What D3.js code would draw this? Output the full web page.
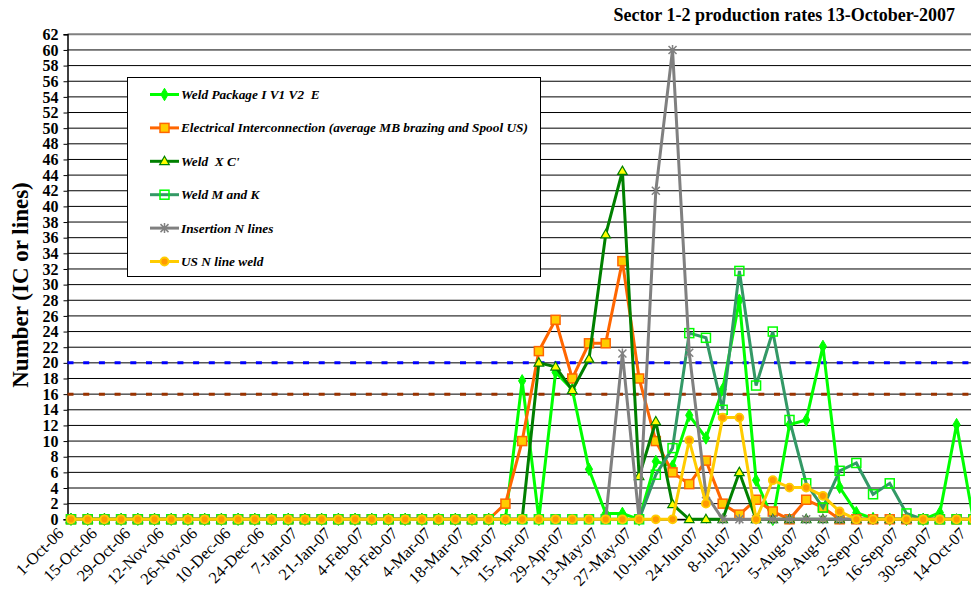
<!DOCTYPE html>
<html>
<head>
<meta charset="utf-8">
<script src="https://cdn.jsdelivr.net/npm/d3@7"></script>
<style>
  body { margin: 0; background: #fff; }
  svg { display: block; }
</style>
</head>
<body>
<div id="chart"></div>
<script>
// weekly categories, 1-Oct-06 .. 14-Oct-07
var weekStart = new Date(2006, 9, 1);
var weeks = d3.range(55).map(function(i) { return d3.timeDay.offset(weekStart, i * 7); });

var xTickLabels = ["1-Oct-06", "15-Oct-06", "29-Oct-06", "12-Nov-06", "26-Nov-06", "10-Dec-06",
  "24-Dec-06", "7-Jan-07", "21-Jan-07", "4-Feb-07", "18-Feb-07", "4-Mar-07", "18-Mar-07",
  "1-Apr-07", "15-Apr-07", "29-Apr-07", "13-May-07", "27-May-07", "10-Jun-07", "24-Jun-07",
  "8-Jul-07", "22-Jul-07", "5-Aug-07", "19-Aug-07", "2-Sep-07", "16-Sep-07", "30-Sep-07", "14-Oct-07"];

var yTicks = d3.range(0, 63, 2);

// values from week 25 (25-Mar-07) on, earlier weeks are 0
var zeros25 = d3.range(25).map(function() { return 0; });

var weldPackage = zeros25.concat([0, 0, 17.7, 0, 18.8, 16.6, 6.4, 0.75, 0.75, 0, 7.4, 6.8, 13.3, 10.4,
  16.6, 28, 5.0, 0, 12.1, 12.7, 22.1, 4.1, 0.85, 0.1, 0, 0, 0, 0.85, 12.1, 0]);
var electrical = zeros25.concat([0, 2, 10, 21.5, 25.5, 18, 22.5, 22.5, 33, 18, 10, 6, 4.5, 7.5,
  2, 0.6, 2.5, 1, 0, 2.5, 1.5, 0, 0, 0, 0, 0, 0, 0, 0, 0]);
var weldXC = zeros25.concat([0, 0, 0, 20, 19.5, 16.5, 20.5, 36.4, 44.5, 5.5, 12.5, 1.9, 0, 0,
  0, 6, 0, 0, 0, 0, 0, 0, 0, 0, 0, 0, 0, 0, 0, 0]);
var weldMK = zeros25.concat([0, 0, 0, 0, 0, 0, 0, 0, 0, 0, 5.7, 9.1, 23.8, 23.2,
  14, 31.75, 17.1, 24, 12.7, 4.6, 1.5, 6.2, 7.2, 3.2, 4.6, 0.75, 0, 0, 0, 0]);
var insertion = zeros25.concat([0, 0, 0, 0, 0, 0, 0, 0, 21.2, 0, 42, 60, 21.3, 3.2,
  0, 0, 0, 0, 0, 0, 0, 0, 0, 0, 0, 0, 0, 0, 0, 0]);
var usWeld = zeros25.concat([0, 0, 0, 0, 0, 0, 0, 0, 0, 0, 0, 0, 10.1, 2.0,
  13, 13, 0, 5, 4.05, 4.05, 3, 1, 0, 0, 0, 0, 0, 0, 0, 0]);

var target20 = weeks.map(function() { return 20; });
var target16 = weeks.map(function() { return 16; });

var seriesNames = ["Weld Package I V1 V2  E",
  "Electrical Interconnection (average MB brazing and Spool US)",
  "Weld  X C'", "Weld M and K", "Insertion N lines", "US N line weld"];

var series = [
  { name: seriesNames[0], values: weldPackage, line: "#00ff00", sym: "diamond", fill: "#00ff00", stroke: "#00ff00" },
  { name: seriesNames[1], values: electrical, line: "#ff6600", sym: "square", fill: "#ffcc00", stroke: "#ff6600" },
  { name: seriesNames[2], values: weldXC, line: "#008000", sym: "triangle", fill: "#ffff00", stroke: "#008000" },
  { name: seriesNames[3], values: weldMK, line: "#339966", sym: "hollow", fill: "none", stroke: "#00ff00" },
  { name: seriesNames[4], values: insertion, line: "#808080", sym: "star", fill: "none", stroke: "#808080" },
  { name: seriesNames[5], values: usWeld, line: "#ffcc00", sym: "circle", fill: "#ff9900", stroke: "#ffcc00" }
];

var W = 971, H = 590;
var svg = d3.select("#chart").append("svg").attr("width", W).attr("height", H);

var x = d3.scaleLinear().domain([0, 54]).range([71, 973.3]);
var y = d3.scaleLinear().domain([0, 62]).range([519.3, 34.3]);
var axisX = 67.5;

// gridlines
svg.append("g").selectAll("line").data(yTicks).enter().append("line")
  .attr("x1", axisX).attr("x2", W)
  .attr("y1", function(d) { return y(d); }).attr("y2", function(d) { return y(d); })
  .attr("stroke", function(d) { return d === 62 ? "#808080" : "#000"; })
  .attr("stroke-width", function(d) { return d === 62 ? 2 : 1; });

// y axis
var yAxis = d3.axisLeft(y).tickValues(yTicks).tickSize(4).tickFormat(d3.format("d"));
var gy = svg.append("g").attr("transform", "translate(" + axisX + ",0)").call(yAxis);
gy.select(".domain").attr("stroke", "#000").attr("stroke-width", 1.5);
gy.selectAll(".tick line").attr("stroke", "#000");
gy.selectAll(".tick text")
  .attr("x", -9)
  .style("font-family", "'Liberation Serif', serif")
  .style("font-weight", "bold").style("font-size", "16px").attr("fill", "#000");

// x axis
var xTickIdx = xTickLabels.map(function(d, i) { return i * 2; });
var xAxis = d3.axisBottom(x).tickValues(xTickIdx).tickSize(4)
  .tickFormat(function(d, i) { return xTickLabels[i]; });
var gx = svg.append("g").attr("transform", "translate(0," + y(0) + ")").call(xAxis);
gx.select(".domain").attr("stroke", "#000").attr("stroke-width", 1.5);
gx.selectAll(".tick line").attr("stroke", "#000");
gx.selectAll(".tick text")
  .style("font-family", "'Liberation Serif', serif")
  .style("font-size", "16.5px").attr("fill", "#000")
  .attr("text-anchor", "end")
  .attr("dy", "0.35em")
  .attr("transform", "translate(-11,11) rotate(-45)")
  .attr("x", 0).attr("y", 0);

// dashed target lines
var targetLine = d3.line().x(function(d, i) { return x(i); }).y(function(d) { return y(d); });
svg.append("path").datum(target20).attr("d", targetLine)
  .attr("fill", "none").attr("stroke", "#0000ff").attr("stroke-width", 3)
  .attr("stroke-dasharray", "6,9.7").attr("transform", "translate(-3.5,0)");
svg.append("path").datum(target16).attr("d", targetLine)
  .attr("fill", "none").attr("stroke", "#993300").attr("stroke-width", 3)
  .attr("stroke-dasharray", "6,9.7").attr("transform", "translate(-3.5,0)");

// symbols
function drawSymbol(g, s, cx, cy) {
  if (s.sym === "diamond") {
    g.append("path").attr("d", d3.symbol().type(d3.symbolDiamond).size(45)())
      .attr("transform", "translate(" + cx + "," + cy + ")")
      .attr("fill", s.fill).attr("stroke", s.stroke);
  } else if (s.sym === "square") {
    g.append("rect").attr("x", cx - 4.5).attr("y", cy - 4.5).attr("width", 9).attr("height", 9)
      .attr("fill", s.fill).attr("stroke", s.stroke).attr("stroke-width", 1.5);
  } else if (s.sym === "hollow") {
    g.append("rect").attr("x", cx - 4.5).attr("y", cy - 4.5).attr("width", 9).attr("height", 9)
      .attr("fill", "none").attr("stroke", s.stroke).attr("stroke-width", 1.5);
  } else if (s.sym === "triangle") {
    g.append("path").attr("d", d3.symbol().type(d3.symbolTriangle).size(40)())
      .attr("transform", "translate(" + cx + "," + (cy + 0.5) + ")")
      .attr("fill", s.fill).attr("stroke", s.stroke).attr("stroke-width", 1.2);
  } else if (s.sym === "star") {
    var r = 4;
    g.append("path")
      .attr("d", "M" + (cx - r) + "," + (cy - r) + "L" + (cx + r) + "," + (cy + r) +
        "M" + (cx - r) + "," + (cy + r) + "L" + (cx + r) + "," + (cy - r) +
        "M" + cx + "," + (cy - r - 1) + "L" + cx + "," + (cy + r + 1))
      .attr("stroke", s.stroke).attr("stroke-width", 1.5).attr("fill", "none");
  } else if (s.sym === "circle") {
    g.append("circle").attr("cx", cx).attr("cy", cy).attr("r", 4)
      .attr("fill", s.fill).attr("stroke", s.stroke).attr("stroke-width", 1.8);
  }
}

var line = d3.line().x(function(d, i) { return x(i); }).y(function(d) { return y(d); });

series.forEach(function(s) {
  var g = svg.append("g");
  g.append("path").datum(s.values).attr("d", line)
    .attr("fill", "none").attr("stroke", s.line).attr("stroke-width", 3)
    .attr("stroke-linejoin", "miter");
  s.values.forEach(function(v, i) { drawSymbol(g, s, x(i), y(v)); });
});

// legend
var lg = svg.append("g");
lg.append("rect").attr("x", 127.5).attr("y", 77.5).attr("width", 413).attr("height", 199)
  .attr("fill", "#fff").attr("stroke", "#000").attr("stroke-width", 1);
series.forEach(function(s, i) {
  var ly = 94.5 + i * 33.4;
  lg.append("line").attr("x1", 150).attr("x2", 179).attr("y1", ly).attr("y2", ly)
    .attr("stroke", s.line).attr("stroke-width", 3);
  drawSymbol(lg, s, 164.5, ly);
  lg.append("text").attr("x", 181).attr("y", ly + 4.5)
    .style("white-space", "pre")
    .style("font-family", "'Liberation Serif', serif")
    .style("font-weight", "bold").style("font-style", "italic").style("font-size", "13.3px")
    .text(s.name);
});

// title
svg.append("text").attr("x", 955).attr("y", 21).attr("text-anchor", "end")
  .style("font-family", "'Liberation Serif', serif")
  .style("font-weight", "bold").style("font-size", "18px")
  .text("Sector 1-2 production rates 13-October-2007");

// y label
svg.append("text")
  .attr("transform", "translate(28,285) rotate(-90)")
  .attr("text-anchor", "middle")
  .style("font-family", "'Liberation Serif', serif")
  .style("font-weight", "bold").style("font-size", "23px")
  .text("Number (IC or lines)");
</script>
</body>
</html>
